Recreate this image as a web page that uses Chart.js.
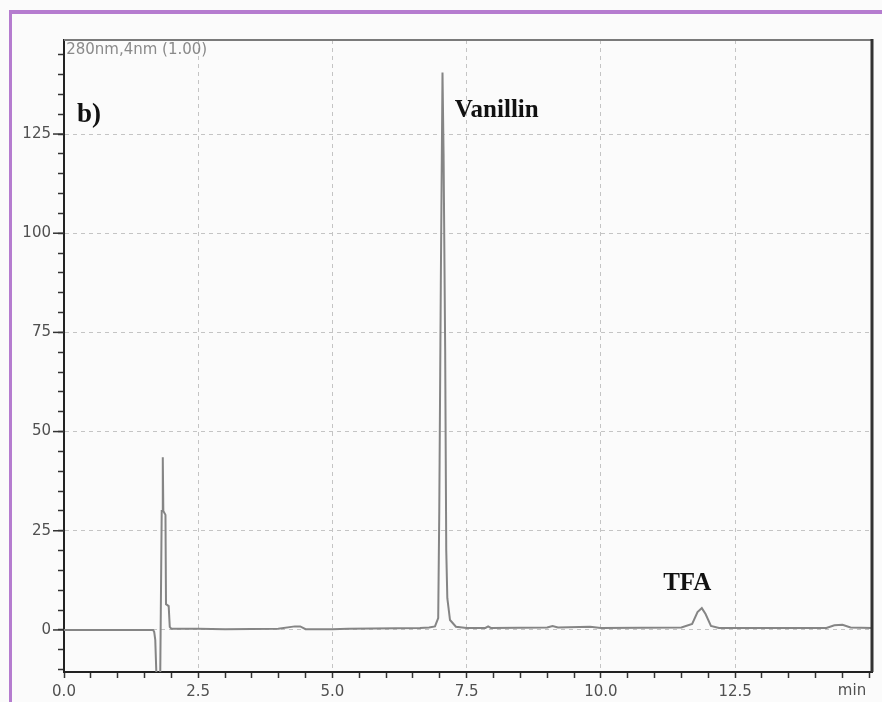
<!DOCTYPE html>
<html>
<head>
<meta charset="utf-8">
<script src="https://cdn.jsdelivr.net/npm/chart.js@4/dist/chart.umd.min.js"></script>
<style>
  html, body { margin: 0; padding: 0; background: #fbfbfb; }
  #frame { position: absolute; left: 9px; top: 10px; width: 900px; height: 800px;
           border-left: 3px solid #b57ccf; border-top: 4px solid #b57ccf; box-sizing: border-box; }
  #wrap { position: absolute; left: 0; top: 0; width: 882px; height: 702px; }
</style>
</head>
<body>
<div id="frame"></div>
<div id="wrap"><canvas id="c" width="882" height="702"></canvas></div>
<script>
// Retention time (min) and detector signal (mAU)
const times  = [0.0, 1.5, 1.66, 1.68, 1.70, 1.73, 1.79, 1.82, 1.83, 1.84, 1.85, 1.89, 1.90, 1.95, 1.97, 2.0, 2.5, 3.0, 3.99, 4.3, 4.4, 4.5, 5.0, 5.29, 6.63, 6.8, 6.91, 6.97, 6.99, 7.02, 7.05, 7.07, 7.10, 7.12, 7.14, 7.19, 7.3, 7.5, 7.85, 7.9, 7.95, 9.0, 9.1, 9.2, 9.8, 10.0, 11.5, 11.7, 11.8, 11.88, 11.95, 12.05, 12.2, 14.2, 14.35, 14.5, 14.65, 15.05];
const signal = [0.0, 0.0, 0.0, -0.5, -2.5, -15, -15, 30, 30, 43.5, 30, 29, 6.5, 6.0, 0.8, 0.3, 0.3, 0.2, 0.3, 0.9, 0.9, 0.2, 0.2, 0.3, 0.5, 0.6, 0.9, 3, 30, 90, 140.5, 120, 70, 20, 8, 2.5, 0.8, 0.5, 0.5, 0.9, 0.5, 0.6, 1.0, 0.6, 0.8, 0.5, 0.6, 1.5, 4.5, 5.5, 4.0, 1.0, 0.5, 0.5, 1.2, 1.3, 0.6, 0.5];
const xTickValues = [0,0.5,1,1.5,2,2.5,3,3.5,4,4.5,5,5.5,6,6.5,7,7.5,8,8.5,9,9.5,10,10.5,11,11.5,12,12.5,13,13.5,14,14.5,15];
const xTickLabels = {0:'0.0', 2.5:'2.5', 5:'5.0', 7.5:'7.5', 10:'10.0', 12.5:'12.5'};
const yTickValues = [-10,-5,0,5,10,15,20,25,30,35,40,45,50,55,60,65,70,75,80,85,90,95,100,105,110,115,120,125,130,135,140,145];
const yTickLabels = {0:'0', 25:'25', 50:'50', 75:'75', 100:'100', 125:'125'};
const annotations = [
  {text: 'b)', x: 0.24, y: 129.8, font: 'bold 27px "Liberation Serif"', color: '#111'},
  {text: 'Vanillin', x: 7.28, y: 130.8, font: 'bold 25px "Liberation Serif"', color: '#111'},
  {text: 'TFA', x: 11.16, y: 11.8, font: 'bold 25px "Liberation Serif"', color: '#111'},
  {text: '280nm,4nm (1.00)', x: 0.04, y: 146.2, font: '15px "DejaVu Sans"', color: '#8a8a8a'}
];

const points = times.map((t, i) => ({x: t, y: signal[i]}));

const decor = {
  id: 'decor',
  afterDraw(chart) {
    const {ctx, chartArea: a, scales} = chart;
    ctx.save();
    // top and right frame lines
    ctx.strokeStyle = '#7a7a7a'; ctx.lineWidth = 2;
    ctx.beginPath(); ctx.moveTo(a.left, a.top); ctx.lineTo(a.right, a.top); ctx.stroke();
    ctx.strokeStyle = '#333'; ctx.lineWidth = 3;
    ctx.beginPath(); ctx.moveTo(a.right, a.top - 1); ctx.lineTo(a.right, a.bottom); ctx.stroke();
    // longer major ticks on the y axis
    ctx.strokeStyle = '#333'; ctx.lineWidth = 1.5;
    Object.keys(yTickLabels).forEach(k => {
      const py = scales.y.getPixelForValue(Number(k));
      ctx.beginPath(); ctx.moveTo(a.left - 11, py); ctx.lineTo(a.left, py); ctx.stroke();
    });
    ctx.textBaseline = 'middle'; ctx.textAlign = 'left';
    annotations.forEach(an => {
      ctx.font = an.font; ctx.fillStyle = an.color;
      ctx.fillText(an.text, scales.x.getPixelForValue(an.x), scales.y.getPixelForValue(an.y));
    });
    ctx.font = '15px "DejaVu Sans"'; ctx.fillStyle = '#505050'; ctx.textAlign = 'center';
    ctx.fillText('min', 852, 691);
    ctx.restore();
  }
};

new Chart(document.getElementById('c'), {
  type: 'line',
  data: { datasets: [{ data: points, borderColor: '#858585', borderWidth: 2, pointRadius: 0, tension: 0, fill: false }] },
  options: {
    responsive: false, animation: false,
    layout: { padding: { left: 0, top: 40, right: 10, bottom: 0 } },
    plugins: { legend: { display: false }, tooltip: { enabled: false } },
    scales: {
      x: {
        type: 'linear', min: 0, max: 15.05,
        afterBuildTicks: s => { s.ticks = xTickValues.map(v => ({value: v})); },
        afterFit: s => { s.height = 30; },
        ticks: { autoSkip: false, maxRotation: 0, padding: 5, color: '#505050', font: {family: 'DejaVu Sans', size: 15},
                 callback: v => (xTickLabels[v] !== undefined ? xTickLabels[v] : '') },
        grid: { color: c => (c.tick && c.tick.value % 2.5 === 0 && c.tick.value > 0 && c.tick.value < 15) ? '#c4c4c4' : 'rgba(0,0,0,0)',
                lineWidth: 1, tickColor: '#333', tickLength: 6, tickWidth: 1.5 },
        border: { color: '#222', width: 2, dash: [4, 4] }
      },
      y: {
        type: 'linear', min: -10.6, max: 148.7,
        afterBuildTicks: s => { s.ticks = yTickValues.map(v => ({value: v})); },
        afterFit: s => { s.width = 64; },
        ticks: { autoSkip: false, padding: 7, color: '#505050', font: {family: 'DejaVu Sans', size: 15},
                 callback: v => (yTickLabels[v] !== undefined ? yTickLabels[v] : '') },
        grid: { color: c => (c.tick && c.tick.value % 25 === 0 && c.tick.value >= 0) ? '#c4c4c4' : 'rgba(0,0,0,0)',
                lineWidth: 1, tickColor: '#333', tickLength: 6, tickWidth: 1.5 },
        border: { color: '#222', width: 2, dash: [4, 4] }
      }
    }
  },
  plugins: [decor]
});
</script>
</body>
</html>
